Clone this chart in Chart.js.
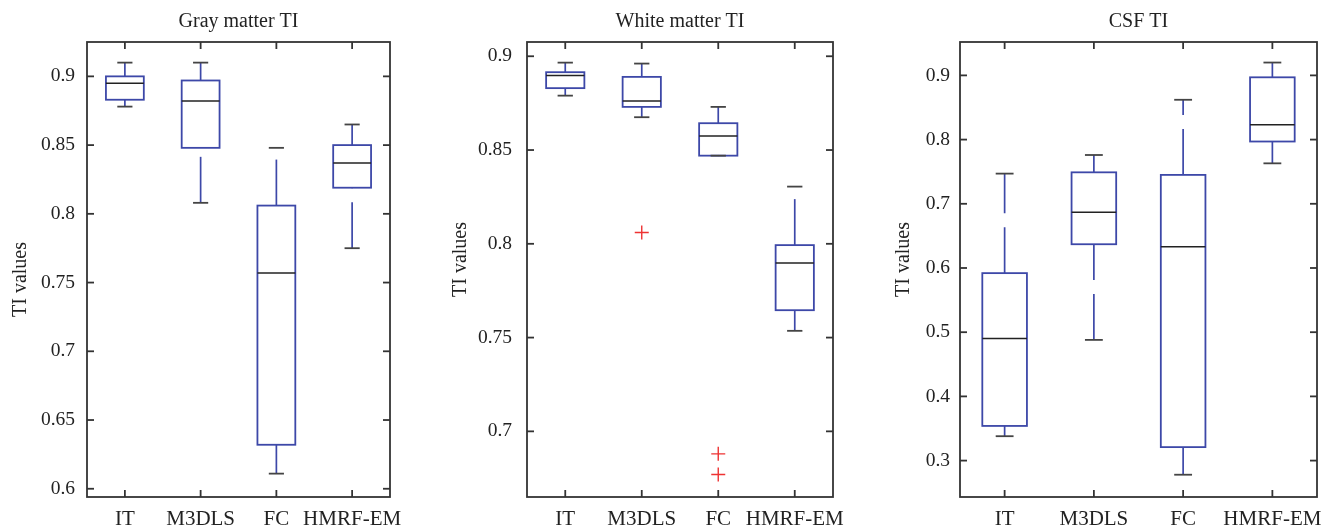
<!DOCTYPE html>
<html>
<head>
<meta charset="utf-8">
<script src="https://cdn.jsdelivr.net/npm/chart.js@4.4.0/dist/chart.umd.min.js"></script>
<style>
body { margin: 0; background: #fff; width: 1321px; height: 526px; position: relative; overflow: hidden; }
canvas { position: absolute; top: 0; }
</style>
</head>
<body>
<canvas id="grayChart" width="440" height="526" style="left:0"></canvas>
<canvas id="whiteChart" width="440" height="526" style="left:440px"></canvas>
<canvas id="csfChart" width="441" height="526" style="left:880px"></canvas>
<script>
// Categories (methods)
var categories = ['IT', 'M3DLS', 'FC', 'HMRF-EM'];

// Gray matter TI
var grayLow    = [0.878, 0.808, 0.611, 0.775];
var grayQ1     = [0.883, 0.848, 0.632, 0.819];
var grayMedian = [0.895, 0.882, 0.757, 0.837];
var grayQ3     = [0.900, 0.897, 0.806, 0.850];
var grayHigh   = [0.910, 0.910, 0.848, 0.865];
var grayOutX   = [];
var grayOutY   = [];
var grayTicks  = [0.6, 0.65, 0.7, 0.75, 0.8, 0.85, 0.9];

// White matter TI
var whiteLow    = [0.879, 0.8675, 0.847, 0.7536];
var whiteQ1     = [0.883, 0.873, 0.847, 0.7646];
var whiteMedian = [0.8897, 0.8762, 0.8575, 0.7898];
var whiteQ3     = [0.8915, 0.889, 0.8643, 0.7993];
var whiteHigh   = [0.8966, 0.8961, 0.873, 0.8305];
var whiteOutX   = [2, 3, 3];
var whiteOutY   = [0.806, 0.688, 0.677];
var whiteTicks  = [0.7, 0.75, 0.8, 0.85, 0.9];

// CSF TI
var csfLow    = [0.338, 0.488, 0.278, 0.763];
var csfQ1     = [0.354, 0.637, 0.321, 0.797];
var csfMedian = [0.490, 0.687, 0.633, 0.823];
var csfQ3     = [0.592, 0.749, 0.745, 0.897];
var csfHigh   = [0.747, 0.776, 0.862, 0.920];
var csfOutX   = [];
var csfOutY   = [];
var csfTicks  = [0.3, 0.4, 0.5, 0.6, 0.7, 0.8, 0.9];

var FONT = 'Liberation Serif';
var BLUE = '#3d48a8';
var INK = '#222';

function seg(ctx, x1, y1, x2, y2) {
    ctx.beginPath();
    ctx.moveTo(x1, y1);
    ctx.lineTo(x2, y2);
    ctx.stroke();
}

// frame with inward ticks on all four sides
var framePlugin = {
    id: 'frame',
    beforeDatasetsDraw: function (chart) {
        var a = chart.chartArea, ctx = chart.ctx;
        var xs = chart.scales.x, ys = chart.scales.y;
        ctx.save();
        ctx.strokeStyle = '#333';
        ctx.lineWidth = 1.8;
        ctx.strokeRect(a.left, a.top, a.right - a.left, a.bottom - a.top);
        ys.ticks.forEach(function (t) {
            var y = ys.getPixelForValue(t.value);
            seg(ctx, a.left, y, a.left + 7, y);
            seg(ctx, a.right - 7, y, a.right, y);
        });
        xs.ticks.forEach(function (t) {
            var x = xs.getPixelForValue(t.value);
            seg(ctx, x, a.top, x, a.top + 7);
            seg(ctx, x, a.bottom - 7, x, a.bottom);
        });
        ctx.restore();
    }
};

// box plots (box, dashed whiskers, caps, median)
var boxPlugin = {
    id: 'boxes',
    afterDatasetsDraw: function (chart, args, opts) {
        var ctx = chart.ctx, xs = chart.scales.x, ys = chart.scales.y;
        ctx.save();
        for (var i = 0; i < opts.median.length; i++) {
            var cx = xs.getPixelForValue(i + 1);
            var half = xs.getPixelForValue(i + 1.25) - cx;
            var cap = xs.getPixelForValue(i + 1.1) - cx;
            var yLo = ys.getPixelForValue(opts.low[i]);
            var yQ1 = ys.getPixelForValue(opts.q1[i]);
            var yMed = ys.getPixelForValue(opts.median[i]);
            var yQ3 = ys.getPixelForValue(opts.q3[i]);
            var yHi = ys.getPixelForValue(opts.high[i]);

            ctx.strokeStyle = BLUE;
            ctx.lineWidth = 1.7;
            ctx.setLineDash([46, 14]);
            seg(ctx, cx, yQ3, cx, yHi);
            seg(ctx, cx, yLo, cx, yQ1);
            ctx.setLineDash([]);
            ctx.lineWidth = 1.8;
            ctx.strokeRect(cx - half, yQ3, 2 * half, yQ1 - yQ3);

            ctx.strokeStyle = '#444';
            ctx.lineWidth = 1.8;
            seg(ctx, cx - cap, yHi, cx + cap, yHi);
            seg(ctx, cx - cap, yLo, cx + cap, yLo);
            ctx.strokeStyle = INK;
            ctx.lineWidth = 1.5;
            seg(ctx, cx - half, yMed, cx + half, yMed);
        }
        ctx.restore();
    }
};

function makePanel(id, p) {
    var outliers = p.outX.map(function (x, i) { return { x: x, y: p.outY[i] }; });
    return new Chart(document.getElementById(id).getContext('2d'), {
        type: 'scatter',
        data: {
            datasets: [{
                data: outliers,
                pointStyle: 'cross',
                radius: 7,
                borderColor: '#ee3333',
                borderWidth: 1.4
            }]
        },
        options: {
            responsive: false,
            animation: false,
            events: [],
            layout: { padding: { left: 0, right: p.right, top: 0, bottom: 0 } },
            plugins: {
                legend: { display: false },
                tooltip: { enabled: false },
                title: {
                    display: true,
                    text: p.title,
                    fullSize: false,
                    color: INK,
                    font: { family: FONT, size: 20, weight: 'normal' },
                    padding: { top: 9.5, bottom: 8.5 }
                },
                boxes: { low: p.low, q1: p.q1, median: p.median, q3: p.q3, high: p.high }
            },
            scales: {
                x: {
                    type: 'linear',
                    min: 0.5,
                    max: 4.5,
                    grid: { display: false, drawTicks: false },
                    border: { display: false },
                    afterBuildTicks: function (s) {
                        s.ticks = categories.map(function (c, i) { return { value: i + 1 }; });
                    },
                    afterFit: function (s) {
                        s.height = 29;
                        s.paddingLeft = 0; s.paddingRight = 0;
                    },
                    ticks: {
                        autoSkip: false,
                        maxRotation: 0,
                        minRotation: 0,
                        padding: 10,
                        color: INK,
                        font: { family: FONT, size: 21 },
                        callback: function (v) { return categories[v - 1]; }
                    }
                },
                y: {
                    min: p.min,
                    max: p.max,
                    grid: { display: false, drawTicks: false },
                    border: { display: false },
                    afterBuildTicks: function (s) {
                        s.ticks = p.ticks.map(function (v) { return { value: v }; });
                    },
                    afterFit: function (s) {
                        s.width = p.left;
                        s.paddingTop = 0; s.paddingBottom = 0;
                    },
                    ticks: {
                        padding: p.tickPad,
                        color: INK,
                        font: { family: FONT, size: 19.5 },
                        callback: function (v) { return String(v); }
                    },
                    title: {
                        display: true,
                        text: p.ylabel,
                        color: INK,
                        font: { family: FONT, size: 20 },
                        padding: { top: p.labelPad, bottom: 0 }
                    }
                }
            }
        },
        plugins: [framePlugin, boxPlugin]
    });
}

makePanel('grayChart', {
    title: 'Gray matter TI', ylabel: 'TI values    ',
    low: grayLow, q1: grayQ1, median: grayMedian, q3: grayQ3, high: grayHigh,
    outX: grayOutX, outY: grayOutY, ticks: grayTicks,
    min: 0.594, max: 0.925, left: 87, right: 50, tickPad: 12, labelPad: 8.7
});

makePanel('whiteChart', {
    title: 'White matter TI', ylabel: '    TI values',
    low: whiteLow, q1: whiteQ1, median: whiteMedian, q3: whiteQ3, high: whiteHigh,
    outX: whiteOutX, outY: whiteOutY, ticks: whiteTicks,
    min: 0.665, max: 0.9076, left: 87, right: 47, tickPad: 15, labelPad: 8.7
});

makePanel('csfChart', {
    title: 'CSF TI', ylabel: '    TI values',
    low: csfLow, q1: csfQ1, median: csfMedian, q3: csfQ3, high: csfHigh,
    outX: csfOutX, outY: csfOutY, ticks: csfTicks,
    min: 0.2433, max: 0.952, left: 80, right: 4, tickPad: 10, labelPad: 12
});
</script>
</body>
</html>
